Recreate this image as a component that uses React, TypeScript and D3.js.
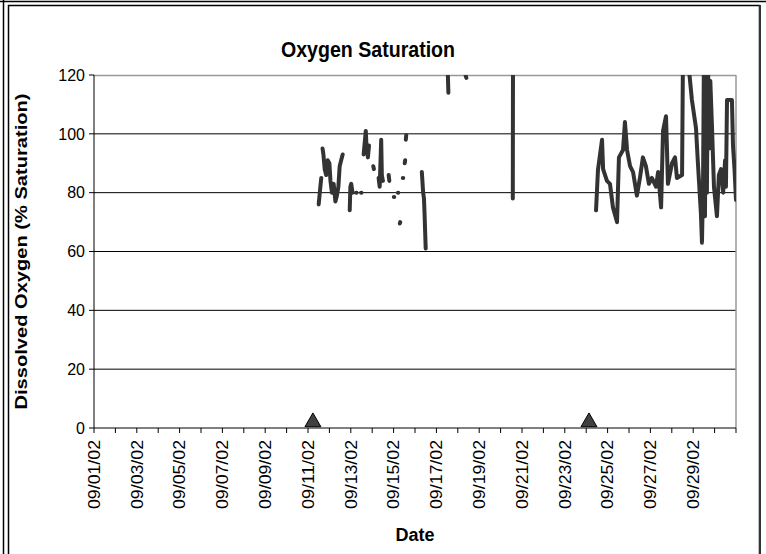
import * as d3 from "d3";

// Sonde readings: days since 09/01/02 00:00 and % saturation (null = gap in record)
const readingDays: number[] = [
  10.5, 10.55, 10.62, 10.65,
  10.68, 10.72, 10.78, 10.85, 10.92, 11.0, 11.05, 11.12, 11.2, 11.28, 11.35, 11.42, 11.48, 11.55, 11.62, 11.64,
  11.95, 11.98, 12.02, 12.08, 12.1,
  12.25, 12.27, 12.3,
  12.48, 12.5, 12.52,
  12.6, 12.65, 12.7, 12.74, 12.8, 12.85, 12.88,
  13.05, 13.08, 13.1,
  13.3, 13.35, 13.42, 13.45, 13.5, 13.52,
  13.77, 13.8, 13.82,
  14.01, 14.03, 14.05,
  14.2, 14.22, 14.24,
  14.29, 14.31, 14.33,
  14.43, 14.45, 14.47,
  14.52, 14.54, 14.55,
  14.57, 14.59, 14.61,
  15.32, 15.38, 15.42, 15.45, 15.5, 15.52,
  16.52, 16.54, 16.56, 16.58,
  17.36, 17.4, 17.42,
  19.57, 19.58, 19.6,
  23.46, 23.55, 23.74, 23.79, 23.97, 24.11, 24.25, 24.44, 24.53, 24.72, 24.81, 24.91,
  25.05, 25.19, 25.37, 25.51, 25.65, 25.79, 25.93, 26.07, 26.26, 26.36, 26.5, 26.59,
  26.73, 26.82, 27.01, 27.15, 27.24, 27.48, 27.52, 27.76, 27.94, 28.13, 28.22, 28.36,
  28.41, 28.46, 28.5, 28.55, 28.6, 28.64, 28.69, 28.75, 28.8, 28.88, 28.97, 29.11,
  29.2, 29.3, 29.4, 29.49, 29.53, 29.58, 29.81, 29.86, 29.93, 30.0,
];

const saturation: (number | null)[] = [
  76, 80, 85, null,
  95, 93, 88, 86, 91, 90, 84, 80, 83, 77, 79, 82, 89, 91, 93, null,
  74, 82, 83, 80, null,
  80, 80, null,
  80, 80, null,
  93, 97, 101, 95, 92, 96, null,
  89, 88, null,
  85, 82, 98, 86, 84, null,
  86, 84, null,
  78.5, 78.5, null,
  80, 80, null,
  69.5, 70, null,
  85, 85, null,
  90, 91, null,
  98, 99.5, null,
  87, 80, 78, 72, 61, null,
  125, 119, 114, null,
  120, 119, null,
  78, 130, null,
  74, 87.7, 98, 88, 84, 83, 75, 70, 92, 94.5, 104, 94.5,
  89, 87, 79, 85, 92, 89, 83, 85, 82, 87, 75, 101,
  106, 83, 90, 92, 85, 86, 125, 125, 111.5, 102, 90, 73,
  63, 83, 125, 72, 125, 80, 125, 95, 118, 102, 82, 72,
  86, 88, 80, 91, 82, 111.5, 111.5, 96, 88, 77.5,
];

// Calibration / maintenance visits (triangle markers)
const visitDays = [10.23, 23.13];
const visitValues = [2, 2];

const yTicks = [0, 20, 40, 60, 80, 100, 120];
const title = "Oxygen Saturation";
const xTitle = "Date";
const yTitle = "Dissolved Oxygen (% Saturation)";

const W = 766;
const H = 554;
const margin = { top: 75, right: 30, bottom: 126, left: 94 };
const font = "Arial, 'Liberation Sans', sans-serif";

const start = new Date(2002, 8, 1);
const toDate = (d: number) => new Date(start.getTime() + d * 864e5);

export default function App() {
  const innerW = W - margin.left - margin.right;
  const innerH = H - margin.top - margin.bottom;

  const x = d3.scaleTime().domain([start, new Date(2002, 9, 1)]).range([0, innerW]);
  const y = d3.scaleLinear().domain([0, 120]).range([innerH, 0]);

  const dayTicks = x.ticks(d3.timeDay.every(1)!);
  const labelTicks = dayTicks.filter((d, i) => i % 2 === 0 && d.getMonth() === 8);
  const fmt = d3.timeFormat("%m/%d/%y");

  const points = readingDays.map((d, i) => ({ t: toDate(d), v: saturation[i] }));
  const line = d3
    .line<{ t: Date; v: number | null }>()
    .defined((d) => d.v !== null)
    .x((d) => x(d.t))
    .y((d) => y(d.v as number));

  const tri = d3.symbol(d3.symbolTriangle, 110)();

  return (
    <div style={{ position: "absolute", left: 0, top: 0 }}>
      <svg width={W} height={H} style={{ display: "block", background: "#fff" }}>
        {/* page frame */}
        <line x1={0} x2={W} y1={1.5} y2={1.5} stroke="#000" strokeWidth={1.5} />
        <line x1={3.5} x2={3.5} y1={0} y2={H} stroke="#000" strokeWidth={1.5} />
        <rect x={8.5} y={5.5} width={751} height={H} fill="#fff" stroke="#000" strokeWidth={1.5} />
        <line x1={760} x2={760} y1={5} y2={H} stroke="#333" strokeWidth={2} />

        <text
          x={368}
          y={57}
          textAnchor="middle"
          fontFamily={font}
          fontWeight="bold"
          fontSize={22}
          textLength={174}
          lengthAdjust="spacingAndGlyphs"
        >
          {title}
        </text>

        <g transform={`translate(${margin.left},${margin.top})`}>
          <defs>
            <clipPath id="plot-clip">
              <rect x={0} y={0} width={innerW} height={innerH} />
            </clipPath>
          </defs>

          {/* gridlines */}
          {yTicks.filter((t) => t > 0 && t < 120).map((t) => (
            <line key={t} x1={0} x2={innerW} y1={y(t)} y2={y(t)} stroke="#000" strokeWidth={1} />
          ))}
          <line x1={0} x2={innerW} y1={0.5} y2={0.5} stroke="#999" strokeWidth={1.5} />
          <line x1={innerW} x2={innerW} y1={0} y2={innerH} stroke="#999" strokeWidth={1.5} />

          {/* y axis */}
          <line x1={0} x2={0} y1={0} y2={innerH} stroke="#000" strokeWidth={1} />
          {yTicks.map((t) => (
            <g key={t} transform={`translate(0,${y(t)})`}>
              <line x1={-5} x2={0} stroke="#000" />
              <text x={-9} dy="0.36em" textAnchor="end" fontFamily={font} fontSize={16}>
                {t}
              </text>
            </g>
          ))}

          {/* x axis */}
          <line x1={0} x2={innerW} y1={innerH} y2={innerH} stroke="#000" strokeWidth={1} />
          {dayTicks.map((d) => (
            <line key={d.getTime()} x1={x(d)} x2={x(d)} y1={innerH} y2={innerH + 5} stroke="#000" />
          ))}
          {labelTicks.map((d) => (
            <text
              key={d.getTime()}
              transform={`translate(${x(d)},${innerH + 12}) rotate(-90)`}
              textAnchor="end"
              dy="0.36em"
              fontFamily={font}
              fontSize={16}
              textLength={69}
              lengthAdjust="spacingAndGlyphs"
            >
              {fmt(d)}
            </text>
          ))}

          {/* series */}
          <path
            d={line(points) || ""}
            fill="none"
            stroke="#333"
            strokeWidth={4}
            strokeLinecap="round"
            strokeLinejoin="round"
            clipPath="url(#plot-clip)"
          />

          {visitDays.map((d, i) => (
            <path
              key={d}
              d={tri || ""}
              transform={`translate(${x(toDate(d))},${y(visitValues[i])})`}
              fill="#404040"
              stroke="#000"
              strokeWidth={1}
            />
          ))}

          <text
            x={innerW / 2}
            y={innerH + 113}
            textAnchor="middle"
            fontFamily={font}
            fontWeight="bold"
            fontSize={18}
          >
            {xTitle}
          </text>
          <text
            transform={`translate(${-73},${innerH / 2}) rotate(-90)`}
            textAnchor="middle"
            dy="0.36em"
            fontFamily={font}
            fontWeight="bold"
            fontSize={16}
            textLength={316}
            lengthAdjust="spacingAndGlyphs"
          >
            {yTitle}
          </text>
        </g>
      </svg>
    </div>
  );
}
